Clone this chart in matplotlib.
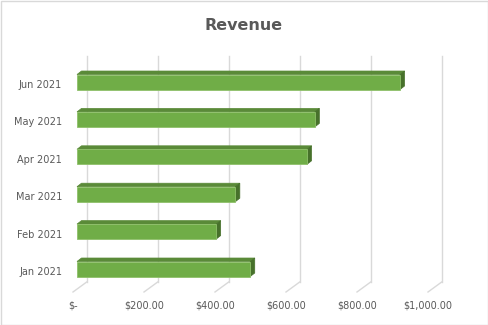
import matplotlib
matplotlib.use("Agg")
import matplotlib.pyplot as plt
from matplotlib.patches import Polygon, Rectangle

months = ["Jan 2021", "Feb 2021", "Mar 2021", "Apr 2021", "May 2021", "Jun 2021"]
revenue = [488, 392, 446, 648, 670, 910]
tick_values = [0, 200, 400, 600, 800, 1000]
tick_labels = ["$-", "$200.00", "$400.00", "$600.00", "$800.00", "$1,000.00"]
title = "Revenue"

W, H = 489, 325
fig = plt.figure(figsize=(W / 100, H / 100), dpi=100)
fig.patch.set_facecolor("white")
fig.patches.append(Rectangle((0.5 / W, 0.5 / H), 1 - 1.5 / W, 1 - 1.5 / H, transform=fig.transFigure,
                             fill=False, edgecolor="#d9d9d9", linewidth=1))

# pixel mapping
px_per_unit = 0.355
x0_px = 77.0
xlim = (-40, 1060)
ylim = (-0.8, 6.8)
y0_px, ystep = 269.0, 37.4
left_px = x0_px + xlim[0] * px_per_unit
right_px = x0_px + xlim[1] * px_per_unit
top_px = y0_px - (ylim[1]) * ystep
bot_px = y0_px - (ylim[0]) * ystep
ax = fig.add_axes([left_px / W, 1 - bot_px / H, (right_px - left_px) / W, (bot_px - top_px) / H])
ax.set_xlim(*xlim)
ax.set_ylim(*ylim)
ax.axis("off")

grid_c = "#d9d9d9"
back_dx = 9.7 / px_per_unit
front_dx = -4.0 / px_per_unit
y_top = 5 + (82 - 56) / ystep
y_back = (y0_px - 282) / ystep
y_front = (y0_px - 292) / ystep
for v in tick_values:
    ax.plot([v + back_dx, v + back_dx], [y_back, y_top], color=grid_c, lw=1, zorder=1)
    ax.plot([v + back_dx, v + front_dx], [y_back, y_front], color=grid_c, lw=1, zorder=1)

# bars
front_c = "#70ad47"
top_c = "#5a8a38"
side_c = "#47712b"
dx = 4.5 / px_per_unit
dy = 3.5 / ystep
h = 15 / ystep
for i, v in enumerate(revenue):
    yb, yt = i - h / 2, i + h / 2
    ax.add_patch(Polygon([(0, yt), (v, yt), (v + dx, yt + dy), (dx, yt + dy)], closed=True,
                         facecolor=top_c, edgecolor=top_c, lw=0.5, zorder=3))
    ax.add_patch(Polygon([(v, yb), (v + dx, yb + dy), (v + dx, yt + dy), (v, yt)], closed=True,
                         facecolor=side_c, edgecolor=side_c, lw=0.5, zorder=3))
    ax.add_patch(Rectangle((0, yb), v, h, facecolor=front_c, edgecolor="#8fc06a", lw=0.6, zorder=4))

txt_c = "#595959"
for i, m in enumerate(months):
    ax.text((62 - x0_px) / px_per_unit, i - 3 / ystep, m, ha="right", va="center",
            fontsize=7, color=txt_c, family="DejaVu Sans", clip_on=False)
for v, lab in zip(tick_values, tick_labels):
    ax.text(v + front_dx, (y0_px - 305) / ystep, lab, ha="center", va="center",
            fontsize=7, color=txt_c, family="DejaVu Sans", clip_on=False)

fig.text(244 / W, 1 - 25 / H, title, ha="center", va="center", fontsize=11.5,
         fontweight="bold", color=txt_c, family="DejaVu Sans")

fig.savefig("out.png", dpi=100)
